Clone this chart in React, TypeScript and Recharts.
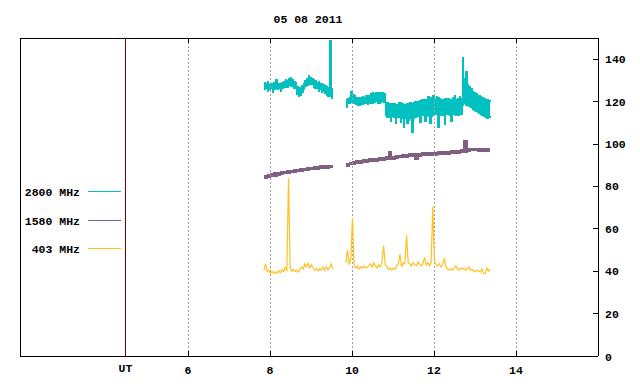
import React from "react";
import { ComposedChart, Line, Area, XAxis, YAxis, ReferenceLine } from "recharts";

// ---- data ----
const title = "05 08 2011";
const seriesNames = ["2800 MHz", "1580 MHz", "403 MHz"];
const seriesColors = ["#00c0c0", "#806080", "#ffc020"];

const xTicks = [4.473, 6, 8, 10, 12, 14];
const xTickLabels = ["UT", "6", "8", "10", "12", "14"];
const gridHours = [6, 8, 10, 12, 14];
const utHour = 4.473;
const yTicks = [0, 20, 40, 60, 80, 100, 120, 140];

const seg1Start = 7.85;
const seg2Start = 9.85;
const fineStep = 0.04;
const coarseStep = 0.08;

// 2800 MHz: band bottom / top of the noisy trace (sampled every fineStep)
const mhz2800Seg1Lo = [125.5, 126, 125, 125.5, 126, 124.5, 125.5, 126, 125.5, 126, 125, 126, 126.5, 127, 126.5, 127.5, 127, 127, 126, 126, 123.5, 122.5, 123, 124.5, 125.5, 127, 127.5, 128.5, 128, 128, 126.5, 126, 126, 125, 125.5, 124.5, 125, 124, 123, 122.5, 122.5, 121.5, 122.5];
const mhz2800Seg1Hi = [129, 128.5, 129.5, 128, 128.5, 128, 129, 130.5, 128, 128.5, 128, 129, 129.5, 130.5, 130, 131, 131.5, 130.5, 129.5, 129, 127, 126, 126.5, 127.5, 128.5, 130, 131, 132.5, 131.5, 131, 130.5, 130, 129, 129.5, 128.5, 128.5, 128, 127.5, 127, 126.5, 149, 126, 125.5];
const mhz2800Seg2Lo = [117, 119, 119, 119.5, 119, 119, 118.5, 118, 118, 118.5, 118.5, 119, 119, 118.5, 119, 119, 119, 119.5, 120, 119, 119, 119.5, 120, 119.5, 113.5, 112.5, 112.5, 110.5, 113, 112.5, 109.5, 112.5, 112.5, 110, 112, 108, 112, 109.5, 111, 112, 105.5, 112, 112.5, 113, 113, 110, 113.5, 113.5, 110.5, 113, 113.5, 109.5, 113, 113.5, 114, 114, 108, 113.5, 113.5, 113.5, 109, 114, 114, 113.5, 110.5, 114, 114, 113.5, 113.5, 114, 114, 118, 119, 118, 118, 117.5, 117, 116.5, 116, 115.5, 115, 114.5, 114, 113.5, 113, 112.5, 112, 112.5, 113];
const mhz2800Seg2Hi = [121, 121.5, 122, 125, 123.5, 123, 122, 122, 121.5, 122, 122.5, 122, 123, 122.5, 123, 124, 124.5, 124, 124.5, 124, 124.5, 124, 124.5, 124, 119.5, 119.5, 119, 119, 119, 119, 118.5, 118.5, 119.5, 119.5, 119, 118.5, 118.5, 119, 119, 119.5, 119, 119.5, 120, 120, 120, 120.5, 121, 121, 121, 121, 122.5, 122, 122, 123, 121.5, 122.5, 122, 121.5, 121, 121, 121.5, 121.5, 121.5, 121, 121, 122, 123, 121, 121.5, 122.5, 121.5, 141, 131, 134, 128, 127, 126, 125, 124.5, 124, 123, 123, 122.5, 122, 121.5, 121, 121, 120.5, 120];

// 1580 MHz: band bottom / top (sampled every coarseStep)
const mhz1580Seg1Lo = [83.8, 84.2, 84.6, 84.9, 85.3, 85.5, 85.9, 86.1, 86.5, 86.6, 87.0, 87.1, 87.4, 87.5, 87.8, 87.9, 88.2, 88.3, 88.5, 88.6, 88.8, 88.8];
const mhz1580Seg1Hi = [85.2, 85.6, 86.0, 86.4, 86.5, 86.9, 87.1, 87.5, 87.7, 88.0, 88.2, 88.5, 88.6, 88.9, 89.0, 89.3, 89.4, 89.7, 89.7, 90.0, 90.0, 90.2];
const mhz1580Seg2Lo = [89.6, 90.1, 90.5, 90.8, 91.0, 91.2, 91.4, 91.6, 91.7, 91.9, 92.1, 92.3, 92.5, 92.7, 92.9, 93.2, 93.4, 93.6, 93.8, 94.0, 94.1, 92.8, 94.3, 94.4, 94.5, 94.6, 94.7, 94.8, 94.9, 95.0, 95.1, 95.2, 95.3, 95.4, 95.6, 95.8, 96.2, 96.5, 96.7, 96.7, 96.6, 96.5, 96.4, 96.3, 96.3];
const mhz1580Seg2Hi = [91.0, 91.5, 91.9, 92.2, 92.4, 92.6, 92.8, 93.0, 93.1, 93.3, 93.5, 93.7, 93.9, 96.3, 94.3, 94.6, 94.8, 95.0, 95.2, 95.4, 95.5, 95.4, 95.7, 95.8, 95.9, 96.0, 96.1, 96.2, 96.3, 96.4, 96.5, 96.6, 96.7, 96.8, 97.0, 97.2, 101.7, 97.9, 98.1, 98.1, 98.0, 97.9, 97.8, 97.7, 97.7];

// 403 MHz trace (sampled every fineStep)
const mhz403Seg1 = [40.5, 43.5, 40, 40.5, 39, 40, 38.8, 39.8, 39, 40.2, 39.3, 40.8, 39.8, 41.8, 40.5, 84, 41.5, 40, 40.8, 39.8, 40.5, 39.5, 41, 42, 41, 43.5, 42, 43.8, 41.5, 43, 41.5, 40.5, 41.3, 40.2, 41, 40.5, 42, 40.5, 42.2, 40.7, 41.5, 43.5, 41];
const mhz403Seg2 = [44, 50, 43, 46, 65, 43, 41.5, 42.5, 41, 42, 41.5, 42.5, 41.5, 42, 42.5, 43.5, 42, 44, 42.5, 41.5, 43, 42, 44, 52, 43, 42, 41, 41.5, 40.5, 41.5, 41, 42.5, 43.5, 48, 42, 44, 43.5, 57, 44, 43.5, 42.5, 44, 43, 42.5, 44.5, 43, 42.5, 43.5, 46.5, 43, 44, 42.5, 44, 70.5, 44.5, 43, 42.5, 43.5, 42, 43, 46, 42, 41, 40.5, 41, 40.5, 41.5, 42.5, 41, 40.5, 41.5, 41, 41.5, 40.5, 41, 42, 40.5, 40.8, 40, 39.8, 40.5, 40, 39.5, 41, 38.8, 39, 41.5, 40, 41];

const toBand = (start: number, step: number, lo: number[], hi: number[]) =>
  lo.map((l, i) => ({ t: +(start + i * step).toFixed(3), r: [l, hi[i]] }));
const toPoints = (start: number, step: number, vals: number[]) =>
  vals.map((v, i) => ({ t: +(start + i * step).toFixed(3), v }));

const bands = [
  { color: seriesColors[1], data: toBand(seg1Start, coarseStep, mhz1580Seg1Lo, mhz1580Seg1Hi) },
  { color: seriesColors[1], data: toBand(seg2Start, coarseStep, mhz1580Seg2Lo, mhz1580Seg2Hi) },
  { color: seriesColors[0], data: toBand(seg1Start, fineStep, mhz2800Seg1Lo, mhz2800Seg1Hi) },
  { color: seriesColors[0], data: toBand(seg2Start, fineStep, mhz2800Seg2Lo, mhz2800Seg2Hi) },
];
const lines = [
  { color: seriesColors[2], data: toPoints(seg1Start, fineStep, mhz403Seg1) },
  { color: seriesColors[2], data: toPoints(seg2Start, fineStep, mhz403Seg2) },
];

const FONT = "'Liberation Mono', 'DejaVu Sans Mono', monospace";

const XTick = (props: any) => {
  const { x, y, payload } = props;
  const idx = xTicks.indexOf(payload.value);
  const label = idx >= 0 ? xTickLabels[idx] : String(payload.value);
  const isUT = label === "UT";
  return (
    <text x={x} y={y + (isUT ? 16 : 18)} textAnchor="middle" fontFamily={FONT} fontWeight="bold" fontSize={11.5} fill="#000">
      {label}
    </text>
  );
};

const YTick = (props: any) => {
  const { x, y, payload } = props;
  return (
    <text x={x + 7} y={y + 4 + (payload.value === 0 ? 1 : 0)} textAnchor="start" fontFamily={FONT} fontWeight="bold" fontSize={11.5} fill="#000">
      {payload.value}
    </text>
  );
};

export default function App() {
  return (
    <div style={{ position: "absolute", left: 0, top: 0, width: 640, height: 384, background: "#fff" }}>
      <ComposedChart width={640} height={384} margin={{ top: 38, right: 0, bottom: 0, left: 0 }}>
        <XAxis
          type="number"
          dataKey="t"
          domain={[1.9, 16]}
          ticks={xTicks}
          interval={0}
          allowDataOverflow
          height={28}
          tickSize={0}
          tickMargin={0}
          tickLine={false}
          axisLine={{ stroke: "#000", strokeWidth: 1, shapeRendering: "crispEdges" }}
          tick={<XTick />}
        />
        <YAxis yAxisId="l" orientation="left" width={20} domain={[0, 150]} tick={false} tickLine={false} axisLine={{ stroke: "#000", strokeWidth: 1, shapeRendering: "crispEdges" }} />
        <YAxis
          yAxisId="r"
          orientation="right"
          width={42}
          domain={[0, 150]}
          ticks={yTicks}
          interval={0}
          tickSize={0}
          tickMargin={0}
          tickLine={false}
          axisLine={{ stroke: "#000", strokeWidth: 1, shapeRendering: "crispEdges" }}
          tick={<YTick />}
        />
        <ReferenceLine yAxisId="r" y={150} stroke="#000" strokeWidth={1} shapeRendering="crispEdges" />
        {gridHours.map((h) => (
          <ReferenceLine key={"g" + h} yAxisId="r" x={h} stroke="#a0a0a0" strokeDasharray="2 2" strokeWidth={1} shapeRendering="crispEdges" />
        ))}
        {gridHours.map((h) => (
          <ReferenceLine key={"tt" + h} yAxisId="r" segment={[{ x: h, y: 150 }, { x: h, y: 147.8 }]} stroke="#000" strokeWidth={1} shapeRendering="crispEdges" />
        ))}
        {gridHours.map((h) => (
          <ReferenceLine key={"tb" + h} yAxisId="r" segment={[{ x: h, y: 0 }, { x: h, y: 2.2 }]} stroke="#000" strokeWidth={1} shapeRendering="crispEdges" />
        ))}
        {yTicks.filter((v) => v > 0).map((v) => (
          <ReferenceLine key={"yt" + v} yAxisId="r" segment={[{ x: 16, y: v }, { x: 15.88, y: v }]} stroke="#000" strokeWidth={1} shapeRendering="crispEdges" />
        ))}
        <ReferenceLine yAxisId="r" x={utHour} stroke="#7a0000" strokeWidth={1} shapeRendering="crispEdges" />
        {lines.map((s, i) => (
          <Line
            key={"l" + i}
            yAxisId="r"
            data={s.data}
            dataKey="v"
            type="linear"
            stroke={s.color}
            strokeWidth={1.2}
            dot={false}
            activeDot={false}
            isAnimationActive={false}
          />
        ))}
        {bands.map((s, i) => (
          <Area
            key={"a" + i}
            yAxisId="r"
            data={s.data}
            dataKey="r"
            type="stepAfter"
            stroke={s.color}
            strokeWidth={1}
            fill={s.color}
            fillOpacity={1}
            shapeRendering="crispEdges"
            dot={false}
            activeDot={false}
            isAnimationActive={false}
          />
        ))}
      </ComposedChart>
      <svg width={640} height={384} style={{ position: "absolute", left: 0, top: 0, pointerEvents: "none" }}>
        <text x={308} y={23} textAnchor="middle" fontFamily={FONT} fontWeight="bold" fontSize={11.5} fill="#000">
          {title}
        </text>
        {seriesNames.map((name, i) => (
          <g key={name}>
            <text x={80} y={196 + i * 28.7} textAnchor="end" fontFamily={FONT} fontWeight="bold" fontSize={11.5} fill="#000">
              {name}
            </text>
            <line x1={88} x2={121} y1={191.5 + i * 28.5} y2={191.5 + i * 28.5} stroke={seriesColors[i]} strokeWidth={1} shapeRendering="crispEdges" />
          </g>
        ))}
      </svg>
    </div>
  );
}
